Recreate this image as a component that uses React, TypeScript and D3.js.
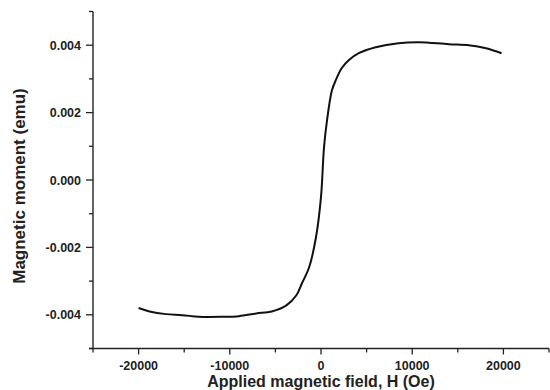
import { useMemo } from "react";
import * as d3 from "d3";

const WIDTH = 550;
const HEIGHT = 390;

// axis extents
const X_DOMAIN = [-25000, 25000];
const Y_DOMAIN = [-0.005, 0.005];
const X_MAJOR = [-20000, -10000, 0, 10000, 20000];
const X_MINOR = [-25000, -15000, -5000, 5000, 15000, 25000];
const Y_MAJOR = [-0.004, -0.002, 0, 0.002, 0.004];
const Y_MINOR = [-0.005, -0.003, -0.001, 0.001, 0.003, 0.005];

// M-H curve
const FIELD = [
  -20000, -18800, -17000, -15200, -13400, -10800, -9000, -7100, -5400, -3800,
  -2700, -2100, -1300, -550, 0, 330, 660, 1200, 1650, 2300, 3100, 4200, 6000,
  8500, 10700, 14000, 16200, 18100, 19800,
];
const MOMENT = [
  -0.0038, -0.0039, -0.00398, -0.00401, -0.00406, -0.00406, -0.00404, -0.00396,
  -0.0039, -0.00372, -0.00342, -0.00307, -0.00259, -0.0017, -0.0005, 0.00097,
  0.00177, 0.00266, 0.00298, 0.00333, 0.00357, 0.00377, 0.00394, 0.00406,
  0.00409, 0.00403, 0.004, 0.00391, 0.00376,
];

const FONT = "'Liberation Sans', Arial, sans-serif";

function App() {
  const xScale = useMemo(
    () => d3.scaleLinear().domain(X_DOMAIN).range([93, 549]),
    []
  );
  const yScale = useMemo(
    () => d3.scaleLinear().domain(Y_DOMAIN).range([348.5, 11.5]),
    []
  );

  const path = useMemo(() => {
    const line = d3
      .line<number>()
      .x((d, i) => xScale(FIELD[i]))
      .y((d) => yScale(d))
      .curve(d3.curveCatmullRom.alpha(0.5));
    return line(MOMENT);
  }, [xScale, yScale]);

  const x0 = xScale(X_DOMAIN[0]);
  const y0 = yScale(Y_DOMAIN[0]);

  return (
    <svg
      width={WIDTH}
      height={HEIGHT}
      style={{ position: "absolute", left: 0, top: 0, background: "#fff" }}
      fontFamily={FONT}
    >
      {/* y axis */}
      <line x1={x0} x2={x0} y1={yScale(Y_DOMAIN[1])} y2={y0 + 0.5} stroke="#222" strokeWidth={1.4} />
      {Y_MAJOR.map((v) => (
        <g key={v}>
          <line x1={x0 - 7} x2={x0} y1={yScale(v)} y2={yScale(v)} stroke="#222" strokeWidth={1.3} />
          <text
            x={x0 - 12}
            y={yScale(v)}
            dy="0.36em"
            textAnchor="end"
            fontSize={12.5}
            fontWeight="bold"
            fill="#222"
          >
            {d3.format(".3f")(v).replace("−", "-")}
          </text>
        </g>
      ))}
      {Y_MINOR.map((v) => (
        <line key={v} x1={x0 - 4} x2={x0} y1={yScale(v)} y2={yScale(v)} stroke="#222" strokeWidth={1.3} />
      ))}

      {/* x axis */}
      <line x1={x0 - 4} x2={xScale(X_DOMAIN[1])} y1={y0} y2={y0} stroke="#222" strokeWidth={1.4} />
      {X_MAJOR.map((v) => (
        <g key={v}>
          <line x1={xScale(v)} x2={xScale(v)} y1={y0} y2={y0 + 6} stroke="#222" strokeWidth={1.3} />
          <text
            x={xScale(v)}
            y={370}
            textAnchor="middle"
            fontSize={12.5}
            fontWeight="bold"
            fill="#222"
          >
            {String(v)}
          </text>
        </g>
      ))}
      {X_MINOR.map((v) => (
        <line key={v} x1={xScale(v)} x2={xScale(v)} y1={y0} y2={y0 + 4} stroke="#222" strokeWidth={1.3} />
      ))}

      {/* titles */}
      <text x={xScale(0)} y={387} textAnchor="middle" fontSize={16} fontWeight="bold" fill="#222">
        Applied magnetic field, H (Oe)
      </text>
      <text
        transform={`translate(25,186) rotate(-90)`}
        textAnchor="middle"
        fontSize={17}
        fontWeight="bold"
        fill="#222"
      >
        Magnetic moment (emu)
      </text>

      <path d={path ?? ""} fill="none" stroke="#111" strokeWidth={2} strokeLinejoin="round" />
    </svg>
  );
}

export default App;
